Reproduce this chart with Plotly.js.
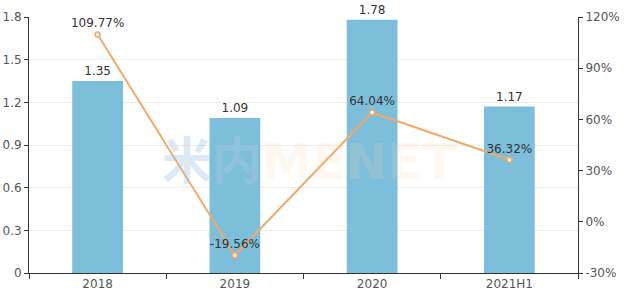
<!DOCTYPE html>
<html><head><meta charset="utf-8">
<script src="https://cdn.plot.ly/plotly-3.0.1.min.js"></script>
<style>body{margin:0;padding:0;}#chart{width:625px;height:296px;}</style>
</head><body><div id="chart"></div>
<script>
const categories = ["2018", "2019", "2020", "2021H1"];
const barValues = [1.35, 1.09, 1.78, 1.17];
const growthPct = [109.77, -19.56, 64.04, 36.32];
const barLabels = ["1.35", "1.09", "1.78", "1.17"];
const growthLabels = ["109.77%", "-19.56%", "64.04%", "36.32%"];
const leftTicks = [0, 0.3, 0.6, 0.9, 1.2, 1.5, 1.8];
const rightTicks = [-30, 0, 30, 60, 90, 120];

const font = {family: "DejaVu Sans, Verdana, sans-serif", size: 12, color: "#555"};

const traces = [
  {type: "bar", x: categories, y: barValues, text: barLabels, textposition: "outside",
   textfont: {family: font.family, size: 12, color: "#333"}, cliponaxis: false,
   marker: {color: "#7dbedb"}, width: 0.37, hoverinfo: "none"},
  {type: "scatter", mode: "lines+markers+text", x: categories, y: growthPct, yaxis: "y2",
   text: growthLabels, textposition: "top center", cliponaxis: false,
   textfont: {family: font.family, size: 12, color: "#333"},
   line: {color: "#f2a96a", width: 2},
   marker: {color: "#ffffff", size: 5, line: {color: "#f2a96a", width: 1.5}}, hoverinfo: "none"}
];

const layout = {
  width: 625, height: 296,
  margin: {l: 29, r: 47, t: 17, b: 23},
  paper_bgcolor: "#fff", plot_bgcolor: "#fff",
  showlegend: false, font: font,
  xaxis: {type: "category", showline: true, linecolor: "#333", linewidth: 1,
          ticks: "outside", ticklen: 5, tickcolor: "#333", tickson: "boundaries",
          showgrid: false, tickfont: font, zeroline: false},
  yaxis: {range: [0, 1.8], tickvals: leftTicks, ticktext: leftTicks.map(String),
          showline: true, linecolor: "#333", ticks: "outside", ticklen: 4, tickcolor: "#333",
          showgrid: true, gridcolor: "#ececec", zeroline: false, tickfont: font},
  yaxis2: {range: [-30, 120], overlaying: "y", side: "right", tickvals: rightTicks,
           ticktext: rightTicks.map(v => v + "%"), showline: true, linecolor: "#333",
           ticks: "outside", ticklen: 4, tickcolor: "#333", showgrid: false, zeroline: false, tickfont: font},
  annotations: [{
    xref: "paper", yref: "paper", x: 0.51, y: 0.455, showarrow: false,
    text: "<b>米内<span style='color:rgba(250,215,180,0.45);font-family:DejaVu Sans'>MENET</span></b>",
    font: {family: "Noto Sans CJK SC, DejaVu Sans", size: 50, color: "rgba(170,200,225,0.4)"}
  }]
};

Plotly.newPlot("chart", traces, layout, {displayModeBar: false, staticPlot: true});
</script></body></html>
